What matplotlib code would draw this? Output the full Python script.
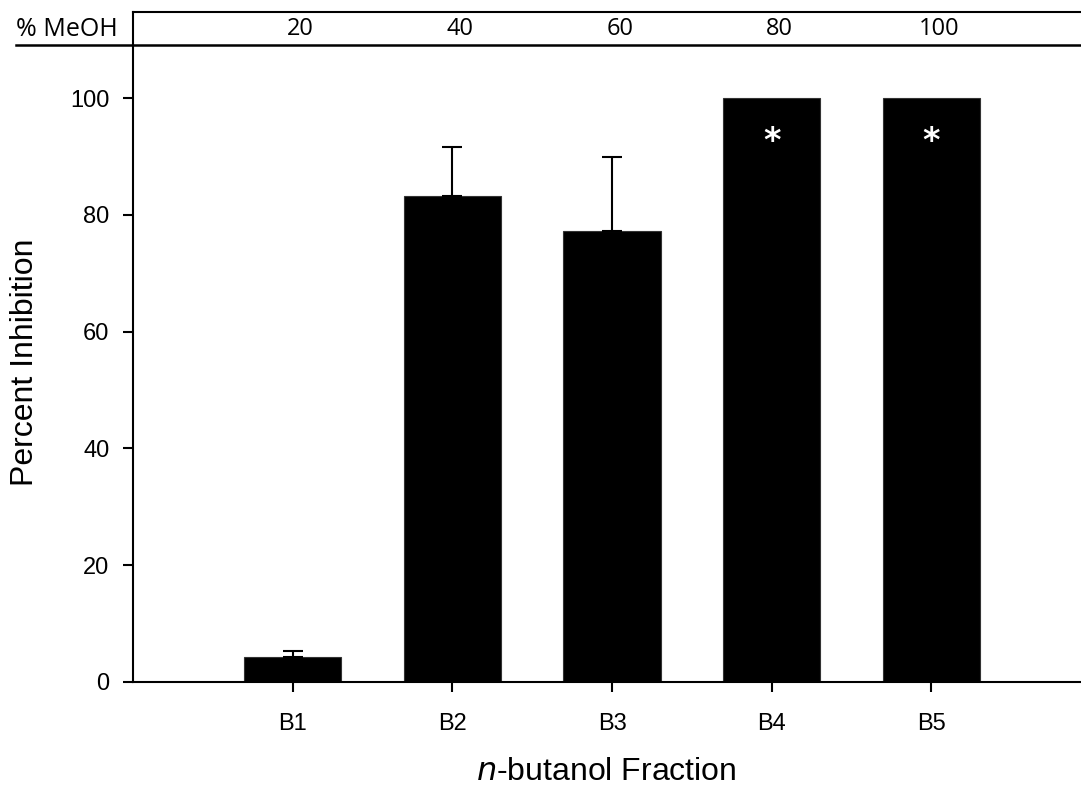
import matplotlib
matplotlib.use("Agg")
from matplotlib import pyplot as plt
from matplotlib import transforms
from matplotlib.lines import Line2D

fracoes = ['B1', 'B2', 'B3', 'B4', 'B5']
inibicao = [4.3, 83.3, 77.3, 100, 100]
erro = [1.0, 8.3, 12.6, 0, 0]
meoh = ['20', '40', '60', '80', '100']
signif = [False, False, False, True, True]

W, H = 1081, 791
fig = plt.figure(figsize=(W / 100, H / 100), dpi=100)
ax = fig.add_axes([133 / W, 1 - 682 / H, (1080 - 133) / W, (682 - 45) / H])

x = list(range(1, len(fracoes) + 1))
ax.bar(x, inibicao, width=0.61, color='black', edgecolor='#333333', linewidth=0.8)

# barras de erro só para cima, e só onde existem
xe = [xi for xi, e in zip(x, erro) if e > 0]
ye = [yi for yi, e in zip(inibicao, erro) if e > 0]
ee = [e for e in erro if e > 0]
ax.errorbar(xe, ye, yerr=[[0] * len(ee), ee], fmt='none',
            ecolor='black', elinewidth=1.5, capsize=7, capthick=1.5)

for xi, yi, s in zip(x, inibicao, signif):
    if s:
        ax.text(xi, yi - 7.5, '*', color='white', ha='center', va='center',
                fontsize=24, fontweight='bold', family='DejaVu Sans')

ax.set_xlim(0, 5.93)
ax.set_ylim(0, 109.1)
ax.set_xticks(x)
ax.set_xticklabels(fracoes, family='Liberation Sans', fontsize=17)
ax.set_yticks([0, 20, 40, 60, 80, 100])
ax.set_yticklabels(['0', '20', '40', '60', '80', '100'], family='Liberation Sans', fontsize=17)
ax.tick_params(axis='both', direction='out', length=7, width=1.5)
ax.tick_params(axis='y', pad=10)
ax.tick_params(axis='x', pad=15)

for sp in ['top', 'right']:
    ax.spines[sp].set_visible(False)
for sp in ['left', 'bottom']:
    ax.spines[sp].set_linewidth(1.5)

# rótulos dos eixos
fig.text(606 / W, 1 - 772 / H, '$\\it{n}$-butanol Fraction', family='Liberation Sans',
         fontsize=23, ha='center', va='center')
fig.text(25 / W, 1 - 362 / H, 'Percent Inhibition', family='Liberation Sans',
         fontsize=23, ha='center', va='center', rotation=90)

# tabela % MeOH no topo
fig.add_artist(Line2D([133 / W, 1], [1 - 12 / H, 1 - 12 / H], color='black', lw=1.5))
fig.add_artist(Line2D([16 / W, 1], [1 - 45 / H, 1 - 45 / H], color='black', lw=1.8))
fig.add_artist(Line2D([133 / W, 133 / W], [1 - 12 / H, 1 - 45 / H], color='black', lw=1.5))
fig.text(16 / W, 1 - 29 / H, '% MeOH', family='Open Sans', fontsize=18, va='center', ha='left')
trans = transforms.blended_transform_factory(ax.transData, fig.transFigure)
for xi, m in zip(x, meoh):
    ax.text(xi + 0.05, 1 - 29 / H, m, transform=trans,
            family='Open Sans', fontsize=17, va='center', ha='center')

fig.savefig('out.png', dpi=100)
